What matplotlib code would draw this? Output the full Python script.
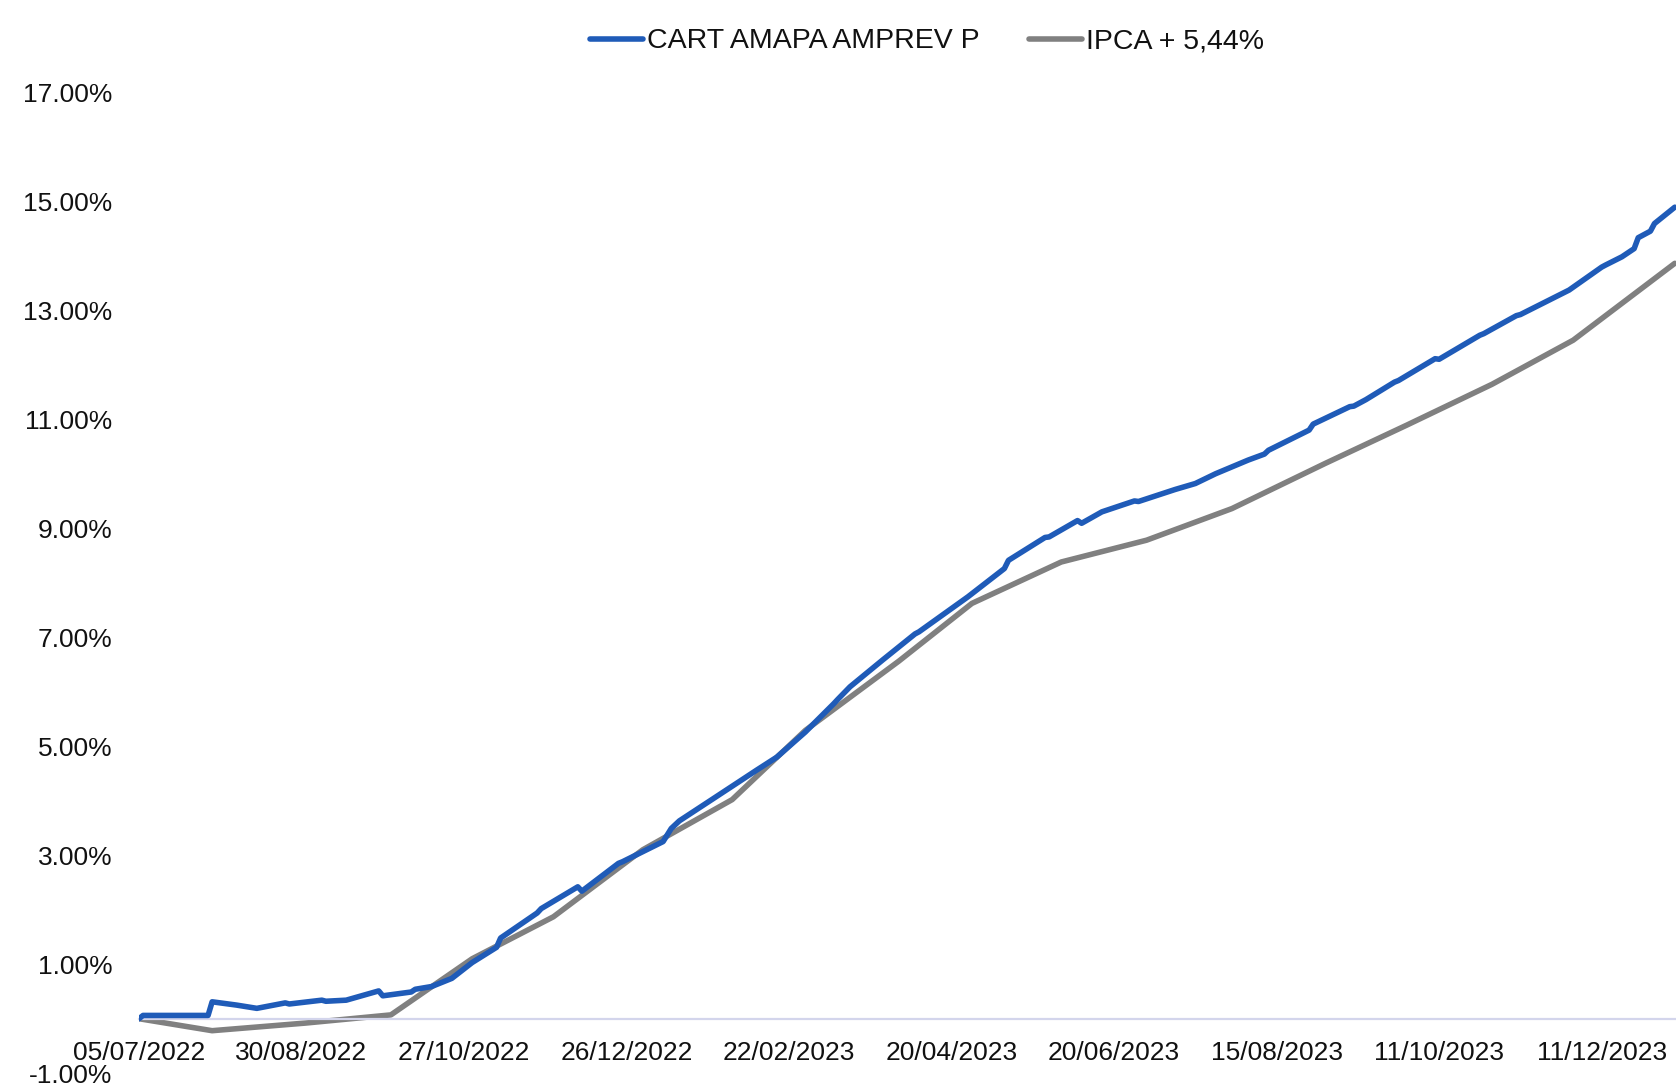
import numpy as np
import matplotlib as mpl
mpl.rcParams["font.family"] = ['Liberation Sans', 'DejaVu Sans']
import matplotlib.pyplot as plt

# eixo x: dias uteis a partir de 05/07/2022, rotulo a cada 40 dias uteis
tick_idx = [0, 40, 80, 120, 160, 200, 240, 280, 320, 360]
tick_labels = ['05/07/2022', '30/08/2022', '27/10/2022', '26/12/2022', '22/02/2023',
               '20/04/2023', '20/06/2023', '15/08/2023', '11/10/2023', '11/12/2023']

# CART AMAPA AMPREV P (rentabilidade acumulada, %)
fundo_idx = [0, 1, 17, 18, 24, 29, 36, 37, 45, 46, 51, 59, 60, 67, 68, 72, 77, 82, 88, 89,
             98, 99, 108, 109, 118, 119, 129, 131, 133, 142, 152, 157, 164, 171, 172, 175,
             183, 191, 192, 204, 213, 214, 223, 224, 231, 232, 237, 245, 246, 255, 260, 265,
             273, 277, 278, 288, 289, 298, 299, 302, 309, 310, 319, 320, 330, 331, 339, 340,
             352, 360, 361, 365, 368, 369, 372, 373, 378]
fundo_val = [0.00, 0.06, 0.06, 0.31, 0.25, 0.19, 0.29, 0.27, 0.34, 0.32, 0.34, 0.51, 0.42,
             0.49, 0.54, 0.59, 0.74, 1.03, 1.31, 1.48, 1.94, 2.02, 2.42, 2.34, 2.85, 2.88,
             3.25, 3.49, 3.63, 4.07, 4.56, 4.80, 5.26, 5.78, 5.86, 6.09, 6.58, 7.06, 7.10,
             7.74, 8.26, 8.41, 8.83, 8.84, 9.14, 9.09, 9.30, 9.50, 9.49, 9.71, 9.82, 10.00,
             10.25, 10.36, 10.43, 10.80, 10.91, 11.23, 11.24, 11.36, 11.68, 11.71, 12.11,
             12.10, 12.54, 12.57, 12.90, 12.92, 13.37, 13.79, 13.83, 13.98, 14.13, 14.33,
             14.45, 14.59, 14.89]

# IPCA + 5,44% (fechamentos mensais)
meta_idx = [0, 18, 41, 62, 82, 102, 124, 146, 164, 187, 205, 227, 248, 269, 292, 312,
            333, 353, 378]
meta_val = [0.00, -0.22, -0.08, 0.07, 1.10, 1.87, 3.10, 4.02, 5.29, 6.56, 7.62, 8.38,
            8.78, 9.36, 10.19, 10.89, 11.64, 12.45, 13.86]

yticks = [-1, 1, 3, 5, 7, 9, 11, 13, 15, 17]

W, H = 1676, 1083
fig = plt.figure(figsize=(W/100, H/100), dpi=100)
ax = fig.add_axes([139/W, (H-1073.2)/H, (W-139)/W, (1073.2-92.2)/H])

blue = '#1F5BB8'
grey = '#808080'
txt = '#111111'
ax.plot(fundo_idx, fundo_val, color=blue, lw=4.0, solid_joinstyle='round',
        solid_capstyle='round', label='CART AMAPA AMPREV P', zorder=3)
ax.plot(meta_idx, meta_val, color=grey, lw=4.0, solid_joinstyle='round',
        solid_capstyle='round', label='IPCA + 5,44%', zorder=2)

ax.set_xlim(0, 378.3)
ax.set_ylim(-1, 17)
ax.set_yticks(yticks)
ax.set_yticklabels(['%.2f%%' % v for v in yticks])
ax.set_xticks(tick_idx)
ax.set_xticklabels(tick_labels)

for s in ['top', 'right', 'left']:
    ax.spines[s].set_visible(False)
ax.spines['bottom'].set_position(('data', 0))
ax.spines['bottom'].set_color('#D3D5EC')
ax.spines['bottom'].set_linewidth(1.6)
ax.tick_params(axis='y', length=0, pad=19, labelsize=19, labelcolor=txt)
ax.tick_params(axis='x', length=0, pad=16, labelsize=19, labelcolor=txt)

fig.legend(loc='center', bbox_to_anchor=(927/W, (H-41.5)/H), ncol=2, frameon=False,
           fontsize=20.5, handlelength=1.86, handletextpad=0.15, columnspacing=1.75,
           labelcolor=txt)

fig.savefig('out.png', dpi=100)
